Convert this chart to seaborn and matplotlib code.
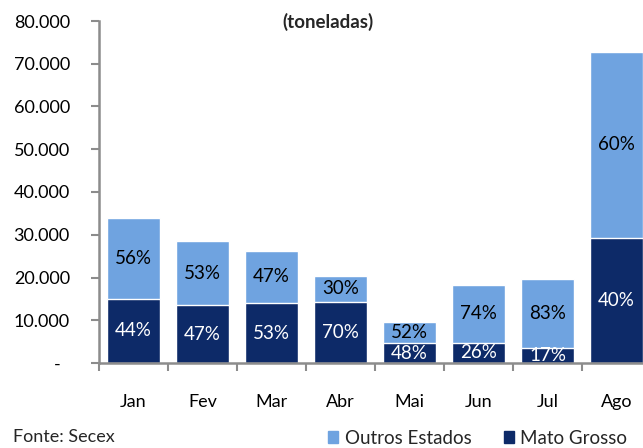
import pandas as pd
import numpy as np
import matplotlib.pyplot as plt
import seaborn as sns
from matplotlib.patches import Patch
from matplotlib.ticker import FuncFormatter, FixedLocator

# Data (toneladas)
meses = ['Jan', 'Fev', 'Mar', 'Abr', 'Mai', 'Jun', 'Jul', 'Ago']
mato_grosso = [15000, 13500, 13950, 14250, 4600, 4750, 3400, 29200]
outros_estados = [18900, 15100, 12350, 6150, 5000, 13550, 16300, 43600]
pct_mt = ['44%', '47%', '53%', '70%', '48%', '26%', '17%', '40%']
pct_outros = ['56%', '53%', '47%', '30%', '52%', '74%', '83%', '60%']

df = pd.DataFrame({'Mes': meses, 'Mato Grosso': mato_grosso, 'Outros Estados': outros_estados})
df['Total'] = df['Mato Grosso'] + df['Outros Estados']

cor_clara = '#6FA3E0'
cor_escura = '#0D2A68'
cor_eixo = '#8C8C8C'

sns.set_theme(style='white')
plt.rcParams['font.family'] = ['Lato', 'DejaVu Sans']

fig = plt.figure(figsize=(6.43, 4.48), dpi=100)
ax = fig.add_axes([99 / 643, 85 / 448, 552 / 643, 342 / 448])

# stacked bars: total in light blue, Mato Grosso on top in dark blue
sns.barplot(data=df, x='Mes', y='Total', color=cor_clara, saturation=1, width=0.78, ax=ax)
sns.barplot(data=df, x='Mes', y='Mato Grosso', color=cor_escura, saturation=1, width=0.78, ax=ax)

ax.set_ylim(0, 80000)
ax.set_xlim(-0.5, len(meses) - 0.5)
ax.set_yticks(np.arange(0, 80001, 10000))
ax.yaxis.set_major_formatter(FuncFormatter(
    lambda v, p: '-  ' if v == 0 else f'{int(v):,}'.replace(',', '.')))

# percent labels centred in each segment
for i in range(len(meses)):
    mt = df['Mato Grosso'][i]
    tot = df['Total'][i]
    ax.text(i, mt / 2, pct_mt[i], ha='center', va='center', color='white', fontsize=13.5)
    ax.text(i, (mt + tot) / 2, pct_outros[i], ha='center', va='center', color='black', fontsize=13.5)

for s in ['top', 'right']:
    ax.spines[s].set_visible(False)
for s in ['left', 'bottom']:
    ax.spines[s].set_color(cor_eixo)
    ax.spines[s].set_linewidth(1.8)

ax.set_xlabel('')
ax.set_ylabel('')
ax.tick_params(axis='y', left=True, length=6, width=1.5, color=cor_eixo, pad=15,
               labelsize=13, labelcolor='black')
ax.tick_params(axis='x', which='major', length=0, pad=22, labelsize=13, labelcolor='black')
ax.xaxis.set_minor_locator(FixedLocator(np.arange(-0.5, len(meses), 1)))
ax.tick_params(axis='x', which='minor', bottom=True, length=6, width=1.5, color=cor_eixo)

fig.text(328 / 643, 1 - 22 / 448, '(toneladas)', ha='center', va='center',
         fontsize=13.5, fontweight='bold')
fig.text(13 / 643, 1 - 437 / 448, 'Fonte: Secex', ha='left', va='center', fontsize=13)

handles = [Patch(color=cor_clara, label='Outros Estados'),
           Patch(color=cor_escura, label='Mato Grosso')]
fig.legend(handles=handles, loc='center left', bbox_to_anchor=(328 / 643, 1 - 438 / 448),
           ncol=2, frameon=False, fontsize=13.5, handlelength=0.55, handleheight=0.55,
           handletextpad=0.35, columnspacing=1.7, borderaxespad=0, borderpad=0)

fig.savefig('out.png', dpi=100)
